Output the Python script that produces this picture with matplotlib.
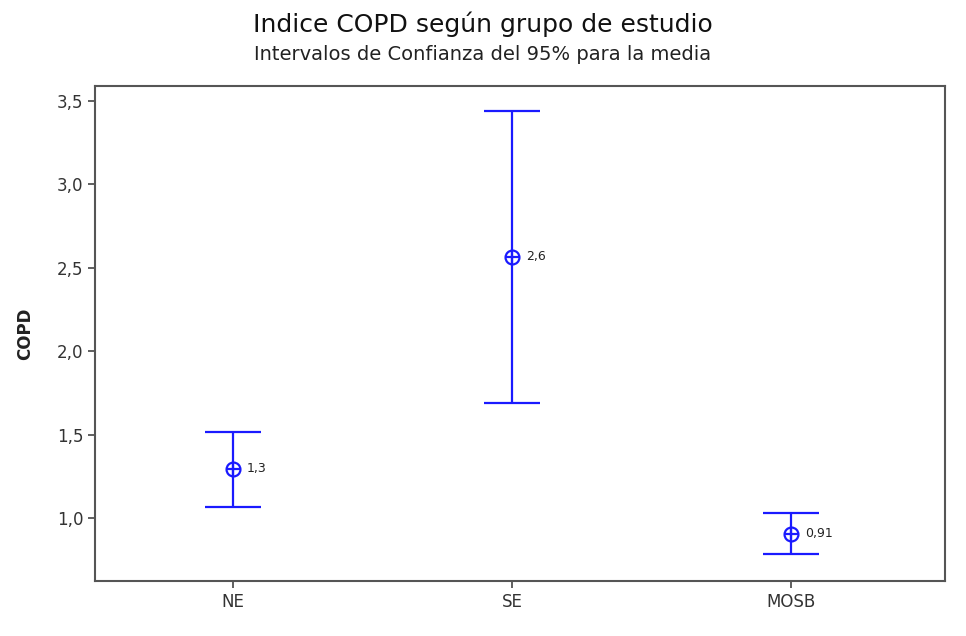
import matplotlib
matplotlib.use("Agg")
import matplotlib.pyplot as plt
from matplotlib.ticker import FuncFormatter

groups = ["NE", "SE", "MOSB"]
means = [1.294, 2.565, 0.904]
upper = [1.516, 3.44, 1.03]
lower = [1.066, 1.69, 0.784]
mean_labels = ["1,3", "2,6", "0,91"]
yticks = [1.0, 1.5, 2.0, 2.5, 3.0, 3.5]

fig = plt.figure(figsize=(9.66, 6.36), dpi=100)
ax = fig.add_axes([95/966, 1-581/636, (945-95)/966, (581-86)/636])

x = list(range(1, len(groups)+1))
blue = "#1a1aff"
for xi, m, u, l, lab in zip(x, means, upper, lower, mean_labels):
    ax.errorbar([xi], [m], yerr=[[m-l], [u-m]], fmt="none", ecolor=blue,
                elinewidth=1.6, capsize=20.5, capthick=1.6, zorder=2)
    ax.plot([xi], [m], marker="o", ms=10, mfc="none", mec=blue, mew=1.6, zorder=3)
    ax.plot([xi], [m], marker="+", ms=10, color=blue, mew=1.6, zorder=3)
    ax.annotate(lab, (xi, m), xytext=(10, 0), textcoords="offset points",
                va="center", ha="left", fontsize=9, color="#222222")

ax.set_xlim(0.505, 3.552)
ax.set_ylim(0.622, 3.59)
ax.set_xticks(x)
ax.set_xticklabels(groups)
ax.set_yticks(yticks)
ax.yaxis.set_major_formatter(FuncFormatter(lambda v, p: f"{v:.1f}".replace(".", ",")))
ax.tick_params(axis="both", direction="out", length=5, width=1.2, color="#444444",
               labelsize=12, labelcolor="#333333")
for s in ax.spines.values():
    s.set_color("#555555")
    s.set_linewidth(1.5)
ax.set_ylabel("COPD", fontsize=12, fontweight="bold", color="#222222", labelpad=16)

fig.text(0.5, 1-24/636, "Indice COPD según grupo de estudio", ha="center", va="center",
         fontsize=18, color="#111111")
fig.text(0.5, 1-55/636, "Intervalos de Confianza del 95% para la media", ha="center",
         va="center", fontsize=14, color="#222222")

fig.savefig("out.png", dpi=100)
